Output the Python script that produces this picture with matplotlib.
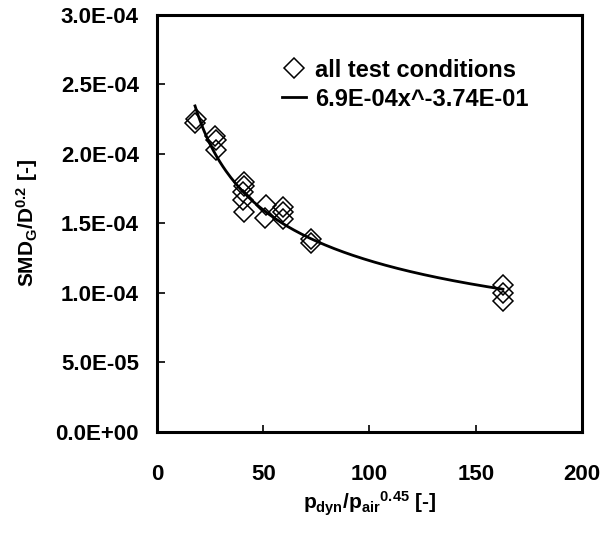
import numpy as np
import matplotlib
matplotlib.use("Agg")
from matplotlib import pyplot as plt
from matplotlib.ticker import FormatStrFormatter

plt.rcParams['font.family'] = ['Liberation Sans', 'DejaVu Sans']
plt.rcParams['font.weight'] = 'bold'
plt.rcParams['mathtext.fontset'] = 'custom'
plt.rcParams['mathtext.rm'] = 'Liberation Sans:bold'
plt.rcParams['mathtext.bf'] = 'Liberation Sans:bold'
plt.rcParams['mathtext.it'] = 'Liberation Sans:bold'

# measured points: p_dyn/p_air^0.45 vs SMD_G/D^0.2
x_vals = [17.9, 18.5, 27.5, 27.8, 27.8, 40.9, 40.9, 40.7, 40.7, 40.9,
          51.3, 50.8, 59.3, 59.3, 59.3, 72.5, 72.5, 162.8, 162.8, 162.8]
y_vals = [2.22e-4, 2.25e-4, 2.13e-4, 2.10e-4, 2.03e-4, 1.80e-4, 1.77e-4,
          1.73e-4, 1.67e-4, 1.58e-4, 1.63e-4, 1.54e-4, 1.62e-4, 1.58e-4,
          1.53e-4, 1.39e-4, 1.36e-4, 1.06e-4, 1.00e-4, 0.94e-4]

# power trendline coefficients
fit_a = 6.9e-4
fit_b = -0.374

x_ticks = [0, 50, 100, 150, 200]
y_ticks = [0, 5e-5, 1e-4, 1.5e-4, 2e-4, 2.5e-4, 3e-4]

fig = plt.figure(figsize=(6.01, 5.33), dpi=100)
ax = fig.add_axes([0.2612, 0.1895, 0.7072, 0.7824])

ax.plot(x_vals, y_vals, linestyle='none', marker='D', markersize=10,
        markerfacecolor='none', markeredgecolor='black', markeredgewidth=1.1,
        label='all test conditions')

xf = np.linspace(min(x_vals), max(x_vals), 200)
ax.plot(xf, fit_a * xf ** fit_b, color='black', linewidth=2,
        label='6.9E-04x^-3.74E-01')

ax.set_xlim(0, 200)
ax.set_ylim(0, 3e-4)
ax.set_xticks(x_ticks)
ax.set_yticks(y_ticks)
ax.yaxis.set_major_formatter(FormatStrFormatter('%.1E'))

for s in ['top', 'bottom', 'left', 'right']:
    ax.spines[s].set_linewidth(2.2)

ax.tick_params(axis='both', direction='in', width=1.2, labelsize=16)
ax.tick_params(axis='x', length=5, pad=23)
ax.tick_params(axis='y', length=6, pad=13)
for lab in ax.get_xticklabels() + ax.get_yticklabels():
    lab.set_fontweight('bold')

ax.set_xlabel(r'$\mathbf{p_{dyn}/p_{air}{}^{0.45}}$ [-]', fontsize=15,
              fontweight='bold', labelpad=3)
ax.set_ylabel(r'$\mathbf{SMD_G/D^{0.2}}$ [-]', fontsize=15,
              fontweight='bold', labelpad=11)

ax.legend(loc='upper left', bbox_to_anchor=(0.272, 0.918), borderaxespad=0,
          frameon=False, prop={'size': 17, 'weight': 'bold'},
          handlelength=1.0, handletextpad=0.4, labelspacing=0.25)

fig.savefig('out.png', dpi=100)
